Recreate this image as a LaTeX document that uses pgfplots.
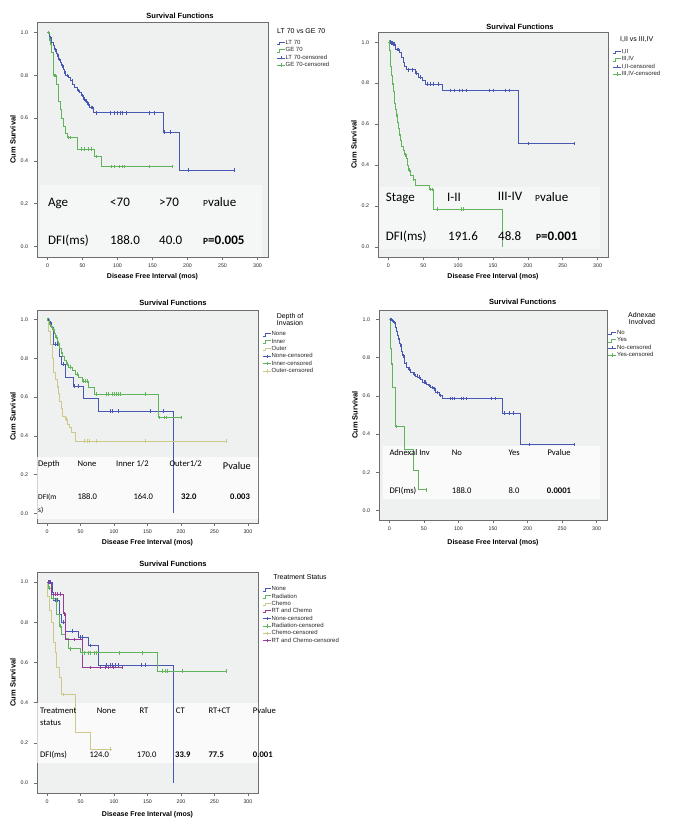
\documentclass[border=0pt]{standalone}
\usepackage{fontspec}
\setmainfont{Liberation Sans}
\newfontfamily\tabfont{Carlito}
\usepackage{pgfplots}
\pgfplotsset{compat=1.18}

\definecolor{blueK}{RGB}{72,88,178}
\definecolor{greenK}{RGB}{98,180,92}
\definecolor{tanK}{RGB}{206,200,138}
\definecolor{purpK}{RGB}{150,60,150}
\definecolor{bgK}{RGB}{239,240,240}
\definecolor{frameK}{RGB}{110,110,110}

\newcommand\tA{\tabfont\fontsize{13}{14}\selectfont}
\newcommand\tAs{\tabfont\fontsize{9.4}{10}\selectfont}
\newcommand\tB{\tabfont\fontsize{8.6}{10}\selectfont}
\newcommand\tBs{\tabfont\fontsize{7.5}{9}\selectfont}
\newcommand\tP{\tabfont\fontsize{10.4}{12}\selectfont}
\newcommand\legtitle{\fontsize{7}{7.6}\selectfont}

\pgfplotsset{
 km/.style={
  scale only axis, anchor=south west,
  xmin=-15, xmax=315, ymin=-0.05, ymax=1.05,
  xtick={0,50,100,150,200,250,300},
  ytick={0,0.2,0.4,0.6,0.8,1},
  yticklabel style={/pgf/number format/.cd, fixed, fixed zerofill, precision=1, /tikz/.cd, xshift=-2.5pt},
  /pgf/number format/assume math mode=true,
  tick label style={font=\fontsize{5.3}{6}\selectfont, text=black!85},
  tick align=outside, tick pos=left, major tick length=3pt,
  tick style={frameK, line width=0.5pt},
  axis line style={frameK, line width=0.8pt},
  axis background/.style={fill=bgK},
  title={Survival Functions},
  title style={font=\bfseries\fontsize{7.5}{8}\selectfont, anchor=center},
  xlabel={Disease Free Interval (mos)},
  ylabel={Cum Survival},
  xlabel style={font=\bfseries\fontsize{7}{8}\selectfont, anchor=center},
  ylabel style={font=\bfseries\fontsize{7.5}{8}\selectfont, anchor=center, at={([xshift=-24pt]axis description cs:0,0.5)}},
  legend cell align=left,
  legend style={draw=none, fill=none, inner sep=0pt, font=\fontsize{6}{6.5}\selectfont,
    nodes={inner sep=0.4pt, text height=4.2pt, text depth=1.2pt}, row sep=1.1pt, anchor=north west, text=black!85},
 },
 stp/.style={const plot, color=#1, mark=none, line width=0.7pt,
   legend image code/.code={\draw[#1,line width=0.5pt] (0pt,-1.3pt) -| (2.5pt,1.3pt) -- (8pt,1.3pt);}},
 cen/.style={only marks, color=#1, mark=|, mark size=1.8pt, mark options={line width=0.6pt},
   legend image code/.code={\draw[#1,line width=0.5pt] (0pt,0pt) -- (8pt,0pt) (4pt,-1.7pt) -- (4pt,1.7pt);}},
}

\begin{document}
\begin{tikzpicture}
\path[use as bounding box] (0,0) rectangle (675pt,825pt);

% ---------------- Panel 1: Age ----------------
\begin{axis}[km, at={(37pt,568pt)}, width=231pt, height=235pt,
  title style={at={([xshift=27.5pt,yshift=0pt]axis description cs:0.5,1)}},
  xlabel style={at={([yshift=-20pt]axis description cs:0.5,0)}},
  legend style={at={([xshift=8.5pt,yshift=-17.9pt]axis description cs:1,1)}}]
\fill[white, fill opacity=0.4] (axis cs:-11,-0.06) rectangle (axis cs:307,0.285);
\addplot[stp=blueK] coordinates {(0,1) (2,0.985) (4,0.97) (6,0.955) (8,0.94) (10,0.92) (12,0.905) (14,0.89) (16,0.875) (18,0.86) (20,0.845) (22,0.83) (24,0.81) (26,0.80) (30,0.79) (33,0.775) (36,0.76) (39,0.745) (42,0.73) (45,0.72) (48,0.705) (51,0.69) (54,0.68) (57,0.665) (60,0.65) (65,0.625) (165,0.535) (188,0.357) (268,0.357)};
\addplot[stp=greenK] coordinates {(0,1) (2,0.97) (4,0.945) (6,0.91) (9,0.80) (13,0.76) (15,0.72) (16,0.68) (18,0.64) (20,0.60) (22,0.56) (25,0.53) (28,0.51) (42,0.455) (67,0.42) (77,0.373) (180,0.373)};
\addplot[cen=blueK] coordinates {(1,1) (3,0.985) (5,0.97) (11,0.92) (15,0.89) (17,0.875) (21,0.845) (25,0.81) (28,0.80) (35,0.775) (44,0.73) (50,0.705) (53,0.69) (56,0.68) (59,0.665) (62,0.65) (64,0.65) (70,0.625) (90,0.625) (96,0.625) (100,0.625) (104,0.625) (107,0.625) (112,0.625) (146,0.625) (153,0.625) (167,0.535) (175,0.535) (201,0.357) (267,0.357)};
\addplot[cen=greenK] coordinates {(1,1) (3,0.97) (5,0.945) (10,0.80) (11,0.80) (30,0.51) (33,0.51) (48,0.455) (52,0.455) (58,0.455) (62,0.455) (70,0.42) (91,0.373) (96,0.373) (103,0.373) (107,0.373) (110,0.373) (146,0.373) (179,0.373)};
\legend{LT 70, GE 70, LT 70-censored, GE 70-censored}
\end{axis}

% ---------------- Panel 2: Stage ----------------
\begin{axis}[km, at={(378pt,568pt)}, width=230pt, height=225pt,
  title style={at={([xshift=27pt,yshift=-1pt]axis description cs:0.5,1)}},
  xlabel style={at={([yshift=-20pt]axis description cs:0.5,0)}},
  legend style={at={([xshift=4.5pt,yshift=-16.9pt]axis description cs:1,1)}}]
\fill[white, fill opacity=0.4] (axis cs:-12,-0.01) rectangle (axis cs:303,0.29);
\addplot[stp=blueK] coordinates {(0,1) (3,0.995) (6,0.99) (10,0.965) (16,0.95) (19,0.925) (21,0.90) (23,0.883) (26,0.865) (38,0.85) (43,0.83) (48,0.815) (53,0.795) (77,0.764) (187,0.505) (267,0.505)};
\addplot[stp=greenK] coordinates {(0,1) (1,0.96) (2,0.92) (3,0.88) (4,0.84) (5,0.80) (7,0.76) (8,0.73) (9,0.70) (10,0.67) (11,0.64) (13,0.61) (14,0.58) (15,0.55) (17,0.52) (19,0.49) (21,0.47) (23,0.45) (25,0.43) (27,0.40) (29,0.375) (32,0.35) (35,0.33) (38,0.30) (58,0.28) (65,0.185) (164,0.0)};
\addplot[cen=blueK] coordinates {(1,1) (2,1) (4,0.995) (5,0.995) (7,0.99) (8,0.99) (12,0.965) (14,0.965) (28,0.865) (34,0.865) (40,0.85) (45,0.83) (56,0.795) (60,0.795) (65,0.795) (72,0.795) (89,0.764) (94,0.764) (101,0.764) (106,0.764) (111,0.764) (145,0.764) (150,0.764) (167,0.764) (174,0.764) (200,0.505) (267,0.505)};
\addplot[cen=greenK] coordinates {(0.5,1) (6,0.80) (12,0.64) (16,0.55) (24,0.45) (30,0.375) (36,0.33) (60,0.28) (63,0.28) (70,0.185) (104,0.185) (107,0.185)};
\legend{{I,II}, {III,IV}, {I,II-censored}, {III,IV-censored}}
\end{axis}

% ---------------- Panel 3: Depth of invasion ----------------
\begin{axis}[km, at={(37pt,302pt)}, width=221pt, height=213pt,
  title style={at={([xshift=25.5pt,yshift=1pt]axis description cs:0.5,1)}},
  xlabel style={at={([yshift=-20pt]axis description cs:0.5,0)}},
  legend style={at={([xshift=4.5pt,yshift=-21.2pt]axis description cs:1,1)}}]
\fill[white, fill opacity=0.7] (axis cs:-16,-0.03) rectangle (axis cs:316,0.29);
\addplot[stp=blueK] coordinates {(0,1) (3,0.985) (6,0.96) (9,0.874) (19,0.813) (22,0.77) (27,0.70) (39,0.658) (54,0.592) (77,0.528) (188,0.0)};
\addplot[stp=greenK] coordinates {(0,1) (3,0.98) (5,0.965) (8,0.95) (11,0.93) (13,0.91) (15,0.89) (17,0.87) (19,0.85) (21,0.83) (23,0.81) (26,0.79) (29,0.77) (32,0.755) (38,0.74) (43,0.72) (47,0.70) (52,0.683) (62,0.65) (70,0.615) (166,0.494) (201,0.494)};
\addplot[stp=tanK] coordinates {(0,1) (2,0.94) (5,0.874) (8,0.80) (10,0.727) (13,0.69) (15,0.658) (17,0.62) (19,0.58) (21,0.54) (23,0.503) (27,0.486) (30,0.46) (33,0.442) (37,0.416) (42,0.373) (268,0.373)};
\addplot[cen=blueK] coordinates {(2,1) (5,0.985) (12,0.874) (16,0.874) (24,0.77) (41,0.658) (46,0.658) (95,0.528) (97,0.528) (106,0.528) (154,0.528) (174,0.528)};
\addplot[cen=greenK] coordinates {(1,1) (4,0.98) (7,0.965) (10,0.95) (14,0.91) (18,0.87) (22,0.83) (30,0.77) (35,0.755) (45,0.72) (54,0.683) (57,0.683) (60,0.683) (73,0.615) (88,0.615) (91,0.615) (98,0.615) (101,0.615) (104,0.615) (107,0.615) (110,0.615) (147,0.615) (168,0.494) (175,0.494) (178,0.494) (201,0.494)};
\addplot[cen=tanK] coordinates {(16,0.658) (29,0.486) (55,0.373) (60,0.373) (63,0.373) (73,0.373) (147,0.373) (268,0.373)};
\legend{None, Inner, Outer, None-censored, Inner-censored, Outer-censored}
\end{axis}

% ---------------- Panel 4: Adnexae ----------------
\begin{axis}[km, at={(379pt,305pt)}, width=228pt, height=210pt,
  title style={at={([xshift=29.7pt,yshift=2pt]axis description cs:0.5,1)}},
  xlabel style={at={([yshift=-23pt]axis description cs:0.5,0)}},
  legend style={at={([xshift=1pt,yshift=-19.9pt]axis description cs:1,1)}}]
\fill[white, fill opacity=0.7] (axis cs:-9,0.06) rectangle (axis cs:305,0.34);
\addplot[stp=blueK] coordinates {(0,1) (4,0.99) (7,0.98) (9,0.96) (10,0.938) (12,0.915) (13,0.895) (15,0.875) (16,0.86) (18,0.835) (19,0.81) (21,0.79) (22,0.77) (25,0.75) (27,0.74) (31,0.725) (34,0.715) (38,0.705) (41,0.698) (45,0.685) (48,0.672) (53,0.663) (56,0.655) (60,0.645) (63,0.637) (67,0.617) (72,0.603) (77,0.586) (164,0.509) (189,0.345) (268,0.345)};
\addplot[stp=greenK] coordinates {(0,1) (1,0.92) (2,0.85) (3,0.77) (4,0.70) (5,0.645) (8,0.44) (21,0.32) (34,0.21) (42,0.108) (54,0.108)};
\addplot[cen=blueK] coordinates {(1,1) (2,1) (3,1) (5,0.99) (6,0.99) (8,0.98) (14,0.895) (17,0.86) (20,0.81) (24,0.77) (29,0.74) (36,0.715) (40,0.705) (43,0.698) (50,0.672) (52,0.672) (58,0.655) (62,0.645) (65,0.637) (70,0.617) (74,0.603) (88,0.586) (91,0.586) (94,0.586) (104,0.586) (107,0.586) (111,0.586) (147,0.586) (154,0.586) (167,0.509) (174,0.509) (179,0.509) (202,0.345) (268,0.345)};
\addplot[cen=greenK] coordinates {(3.5,0.77) (10,0.44) (54,0.108)};
\legend{No, Yes, No-censored, Yes-censored}
\end{axis}

% ---------------- Panel 5: Treatment ----------------
\begin{axis}[km, at={(37pt,32pt)}, width=221pt, height=221pt,
  title style={at={([xshift=25.5pt,yshift=2pt]axis description cs:0.5,1)}},
  xlabel style={at={([yshift=-22pt]axis description cs:0.5,0)}},
  legend style={at={([xshift=4.5pt,yshift=-14.2pt]axis description cs:1,1)}}]
\fill[white, fill opacity=0.7] (axis cs:-16,0.1) rectangle (axis cs:316,0.398);
\addplot[stp=blueK] coordinates {(0,1) (8,0.95) (10,0.91) (18,0.84) (22,0.80) (27,0.755) (47,0.726) (62,0.685) (77,0.586) (188,0.0)};
\addplot[stp=greenK] coordinates {(0,1) (2,0.97) (6,0.92) (14,0.84) (18,0.78) (22,0.74) (27,0.718) (32,0.668) (49,0.648) (165,0.557) (267,0.557)};
\addplot[stp=tanK] coordinates {(0,1) (1,0.93) (4,0.86) (7,0.80) (9,0.70) (12,0.65) (14,0.574) (18,0.524) (22,0.44) (42,0.25) (64,0.168) (97,0.168)};
\addplot[stp=purpK] coordinates {(0,1) (7,0.939) (24,0.842) (28,0.715) (52,0.574) (113,0.574)};
\addplot[cen=blueK] coordinates {(2,1) (5,1) (12,0.91) (15,0.91) (25,0.80) (37,0.755) (50,0.726) (52,0.726) (64,0.685) (88,0.586) (95,0.586) (97,0.586) (102,0.586) (107,0.586) (140,0.586) (147,0.586)};
\addplot[cen=greenK] coordinates {(4,0.97) (10,0.92) (20,0.78) (35,0.668) (52,0.648) (56,0.648) (62,0.648) (65,0.648) (70,0.648) (73,0.648) (108,0.648) (142,0.648) (172,0.557) (177,0.557) (180,0.557) (202,0.557) (267,0.557)};
\addplot[cen=tanK] coordinates {(25,0.44) (95,0.168)};
\addplot[cen=purpK] coordinates {(3,1) (12,0.939) (15,0.939) (20,0.939) (26,0.842) (40,0.715) (64,0.574) (79,0.574) (87,0.574) (92,0.574) (99,0.574) (113,0.574)};
\legend{None, Radiation, Chemo, RT and Chemo, None-censored, Radiation-censored, Chemo-censored, RT and Chemo-censored}
\end{axis}

% ---------------- Legend titles ----------------
\node[anchor=west, inner sep=0pt, font=\legtitle] at (277pt,794.3pt) {LT 70 vs GE 70};
\node[anchor=west, inner sep=0pt, font=\legtitle] at (620pt,785pt) {I,II vs III,IV};
\node[anchor=center, inner sep=0pt, font=\legtitle, align=center] at (290pt,505.5pt) {Depth of\\Invasion};
\node[anchor=center, inner sep=0pt, font=\legtitle, align=center] at (642pt,506.5pt) {Adnexae\\Involved};
\node[anchor=center, inner sep=0pt, font=\legtitle] at (300pt,248pt) {Treatment Status};

% ---------------- Tables ----------------
\begin{scope}[every node/.style={anchor=base west, inner sep=0pt}]
% Panel 1
\node[font=\tA] at (48pt,618.8pt) {Age};
\node[font=\tA] at (110pt,618.8pt) {<70};
\node[font=\tA] at (159pt,618.8pt) {>70};
\node[font=\tA] at (203pt,618.8pt) {{\tAs P}value};
\node[font=\tA] at (48pt,580.1pt) {DFI(ms)};
\node[font=\tA] at (110pt,580.1pt) {188.0};
\node[font=\tA] at (159pt,580.1pt) {40.0};
\node[font=\tA] at (203pt,580.1pt) {{\tAs\bfseries P}\textbf{=0.005}};
% Panel 2
\node[font=\tA] at (385.7pt,623.5pt) {Stage};
\node[font=\tA] at (447pt,623.5pt) {I-II};
\node[font=\tA] at (497.7pt,624.5pt) {III-IV};
\node[font=\tA] at (535pt,623.5pt) {{\tAs P}value};
\node[font=\tA] at (385.7pt,584.1pt) {DFI(ms)};
\node[font=\tA] at (448pt,584.1pt) {191.6};
\node[font=\tA] at (498pt,584.1pt) {48.8};
\node[font=\tA] at (536pt,584.1pt) {{\tAs\bfseries P}\textbf{=0.001}};
% Panel 3
\node[font=\tB] at (38pt,358.2pt) {Depth};
\node[font=\tB] at (77.3pt,358.2pt) {None};
\node[font=\tB] at (116pt,358.2pt) {Inner 1/2};
\node[font=\tB] at (169.3pt,358.2pt) {Outer1/2};
\node[font=\tP] at (222.7pt,355.7pt) {Pvalue};
\node[font=\tBs] at (38pt,325.5pt) {DFI(m};
\node[font=\tBs] at (38pt,312.2pt) {s)};
\node[font=\tB] at (77.3pt,325.5pt) {188.0};
\node[font=\tB] at (133.3pt,325.5pt) {164.0};
\node[font=\tB\bfseries] at (181pt,325.5pt) {32.0};
\node[font=\tB\bfseries] at (230pt,325.5pt) {0.003};
% Panel 4
\node[font=\tB] at (389.3pt,369.9pt) {Adnexal Inv};
\node[font=\tB] at (451.7pt,369.9pt) {No};
\node[font=\tB] at (508.3pt,369.9pt) {Yes};
\node[font=\tB] at (547.3pt,369.9pt) {Pvalue};
\node[font=\tB] at (389.3pt,331.5pt) {DFI(ms)};
\node[font=\tB] at (451.7pt,331.5pt) {188.0};
\node[font=\tB] at (508.3pt,331.5pt) {8.0};
\node[font=\tB\bfseries] at (546.7pt,331.5pt) {0.0001};
% Panel 5
\node[font=\tB] at (40pt,111.5pt) {Treatment};
\node[font=\tB] at (40pt,99pt) {status};
\node[font=\tB] at (96.7pt,111.5pt) {None};
\node[font=\tB] at (139.3pt,111.5pt) {RT};
\node[font=\tB] at (175.7pt,111.5pt) {CT};
\node[font=\tB] at (208.3pt,111.5pt) {RT+CT};
\node[font=\tB] at (252.7pt,111.5pt) {Pvalue};
\node[font=\tB] at (40pt,67.9pt) {DFI(ms)};
\node[font=\tB] at (89.3pt,67.9pt) {124.0};
\node[font=\tB] at (136.7pt,67.9pt) {170.0};
\node[font=\tB\bfseries] at (175pt,67.9pt) {33.9};
\node[font=\tB\bfseries] at (208.3pt,67.9pt) {77.5};
\node[font=\tB\bfseries] at (252.7pt,67.9pt) {0.001};
\end{scope}
\end{tikzpicture}
\end{document}
